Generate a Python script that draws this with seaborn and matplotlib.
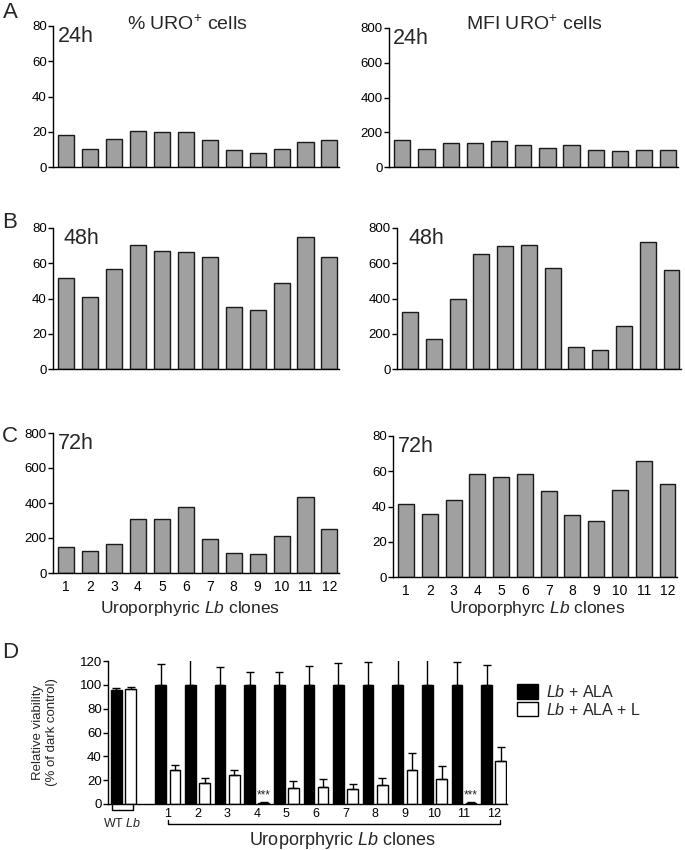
import numpy as np
import pandas as pd
import matplotlib
matplotlib.use("Agg")
import matplotlib.pyplot as plt
import matplotlib.transforms as mtransforms
from matplotlib.patches import Patch
import seaborn as sns

# ---------------- data ----------------
clones = [str(i) for i in range(1, 13)]
pct_24h = [17.9, 10.4, 16.0, 20.6, 19.8, 19.6, 15.5, 9.8, 8.1, 10.4, 14.3, 15.5]
mfi_24h = [153, 106, 140, 138, 149, 127, 110, 129, 96, 93, 95, 98]
pct_48h = [51.6, 41.1, 56.7, 70.1, 66.9, 66.4, 63.3, 35.3, 33.7, 48.7, 75.1, 63.7]
mfi_48h = [322, 172, 400, 652, 698, 701, 572, 127, 106, 245, 720, 559]
left_72h = [150, 127, 167, 307, 307, 375, 197, 114, 110, 214, 436, 250]
right_72h = [41.2, 35.7, 43.7, 58.6, 56.5, 58.6, 48.8, 35.2, 31.9, 49.1, 65.6, 52.9]

d_groups = ["WT"] + clones
via_ala = [96, 100, 100, 100, 100, 100, 100, 100, 100, 100, 100, 100, 100]
via_ala_sd = [1.0, 17.5, 25, 15, 11, 11, 16, 18, 19, 25, 25, 19, 17]
via_alal = [96.5, 28.7, 17.3, 24.0, 1.0, 13.7, 14.5, 12.3, 16.2, 28.5, 20.6, 1.0, 36.5]
via_alal_sd = [1.5, 3.9, 4.2, 4.7, 1.0, 5.3, 6.1, 4.2, 5.3, 13.9, 11.4, 1.0, 11.5]
signif = ["", "", "", "", "***", "", "", "", "", "", "", "***", ""]

# ---------------- style ----------------
sns.set_style("ticks")
plt.rcParams["font.family"] = ["Liberation Sans", "DejaVu Sans"]
plt.rcParams["mathtext.fontset"] = "custom"
plt.rcParams["mathtext.rm"] = "Liberation Sans"
plt.rcParams["mathtext.it"] = "Liberation Sans:italic"
plt.rcParams["mathtext.bf"] = "Liberation Sans:bold"
plt.rcParams["axes.edgecolor"] = "black"
plt.rcParams["axes.linewidth"] = 1.0
plt.rcParams["xtick.color"] = "black"
plt.rcParams["ytick.color"] = "black"

W, H = 685, 850
fig = plt.figure(figsize=(W / 100, H / 100), dpi=100)


def add_ax(l, r, t, b):
    return fig.add_axes([l / W, 1 - b / H, (r - l) / W, (b - t) / H])


def bar_panel(ax, values, ymax, tlabel, tx, show_x):
    df = pd.DataFrame({"clone": clones, "value": values})
    sns.barplot(data=df, x="clone", y="value", color="#a0a0a0", saturation=1,
                edgecolor="#1a1a1a", linewidth=1, width=0.67, ax=ax)
    ax.set_ylim(0, ymax)
    ax.set_yticks(np.linspace(0, ymax, 5))
    ax.set_xlim(-0.55, 11.4)
    sns.despine(ax=ax)
    ax.tick_params(axis="y", direction="out", length=3.5, width=1,
                   labelsize=9.5, pad=1)
    ax.tick_params(axis="x", length=0, labelsize=10, pad=5)
    if not show_x:
        ax.set_xticklabels([])
    ax.set_xlabel("")
    ax.set_ylabel("")
    ax.text(tx, 1.0, tlabel, transform=ax.transAxes, ha="left", va="top",
            fontsize=15.5)


axA1 = add_ax(53, 339, 26, 167)
axA2 = add_ax(389, 678, 28, 167)
axB1 = add_ax(53, 339, 228, 369)
axB2 = add_ax(397, 681, 228, 369)
axC1 = add_ax(53, 339, 433, 573)
axC2 = add_ax(393, 677, 436, 577)

bar_panel(axA1, pct_24h, 80, "24h", 0.017, False)
bar_panel(axA2, mfi_24h, 800, "24h", 0.014, False)
bar_panel(axB1, pct_48h, 80, "48h", 0.035, False)
bar_panel(axB2, mfi_48h, 800, "48h", 0.042, False)
bar_panel(axC1, left_72h, 800, "72h", 0.017, True)
bar_panel(axC2, right_72h, 80, "72h", 0.018, True)

fig.text(187 / W, 1 - 24 / H, r"% URO$^{+}$ cells", ha="center", va="center", fontsize=14)
fig.text(534 / W, 1 - 24 / H, r"MFI URO$^{+}$ cells", ha="center", va="center", fontsize=14)
fig.text(190 / W, 1 - 608 / H, r"Uroporphyric $\mathit{Lb}$ clones", ha="center", va="center", fontsize=12.5)
fig.text(537 / W, 1 - 608 / H, r"Uroporphyrc $\mathit{Lb}$ clones", ha="center", va="center", fontsize=12.5)

for letter, (lx, ly) in {"A": (10, 13), "B": (10, 222), "C": (10, 436), "D": (10, 652)}.items():
    fig.text(lx / W, 1 - ly / H, letter, ha="center", va="center", fontsize=16)

# ---------------- panel D ----------------
axD = add_ax(108, 507, 661, 804)
x_pos = [0.0] + [1.5 + i for i in range(len(clones))]
dfD = pd.DataFrame({
    "pos": x_pos + x_pos,
    "value": via_ala + via_alal,
    "treat": ["ALA"] * len(x_pos) + ["ALA+L"] * len(x_pos),
})
sns.barplot(data=dfD, x="pos", y="value", hue="treat", native_scale=True,
            palette={"ALA": "black", "ALA+L": "white"}, saturation=1,
            edgecolor="black", linewidth=1, width=0.96, gap=0.25,
            errorbar=None, legend=False, ax=axD)
off = 0.96 / 4
xa = np.array(x_pos) - off
xl = np.array(x_pos) + off
axD.errorbar(xa, via_ala, yerr=[np.zeros(len(xa)), via_ala_sd], fmt="none",
             ecolor="black", elinewidth=1, capsize=3, capthick=1, zorder=1)
axD.errorbar(xl, via_alal, yerr=[np.zeros(len(xl)), via_alal_sd], fmt="none",
             ecolor="black", elinewidth=1, capsize=3, capthick=1, zorder=1)
for x, v, s, lab in zip(xl, via_alal, via_alal_sd, signif):
    if lab:
        axD.text(x, v + s + 0.5, lab, ha="center", va="bottom", fontsize=8.5)

axD.set_ylim(0, 120)
axD.set_yticks(range(0, 121, 20))
axD.set_xlim(-0.52, 12.95)
axD.set_xticks(x_pos[1:])
axD.set_xticklabels(clones)
sns.despine(ax=axD)
axD.tick_params(axis="y", direction="out", length=3.5, width=1, labelsize=9.5, pad=1)
axD.tick_params(axis="x", length=0, labelsize=9, pad=3)
axD.set_xlabel("")
axD.set_ylabel("Relative viability\n(% of dark control)", fontsize=9.5, linespacing=1.2)
axD.yaxis.set_label_coords(-0.125, 0.5)

tr = mtransforms.blended_transform_factory(axD.transData, axD.transAxes)
axD.plot([-0.39, -0.39, 0.32, 0.32], [0, -0.042, -0.042, 0], transform=tr,
         color="black", lw=1, clip_on=False)
axD.plot([1.5, 1.5, 12.7, 12.7], [-0.11, -0.142, -0.142, -0.11], transform=tr,
         color="black", lw=1, clip_on=False)
axD.text(-0.05, -0.133, r"WT $\mathit{Lb}$", transform=tr, ha="center", va="center", fontsize=9)
axD.text(7.38, -0.252, r"Uroporphyric $\mathit{Lb}$ clones", transform=tr,
         ha="center", va="center", fontsize=13)

handles = [Patch(facecolor="black", edgecolor="black"),
           Patch(facecolor="white", edgecolor="black")]
fig.legend(handles, [r"$\mathit{Lb}$ + ALA", r"$\mathit{Lb}$ + ALA + L"],
           loc="upper left", bbox_to_anchor=(517 / W, 1 - 684 / H), frameon=False,
           fontsize=11.5, handlelength=1.3, handleheight=1.0, handletextpad=0.5,
           labelspacing=0.1, borderpad=0, borderaxespad=0)

fig.savefig("out.png", dpi=100)
